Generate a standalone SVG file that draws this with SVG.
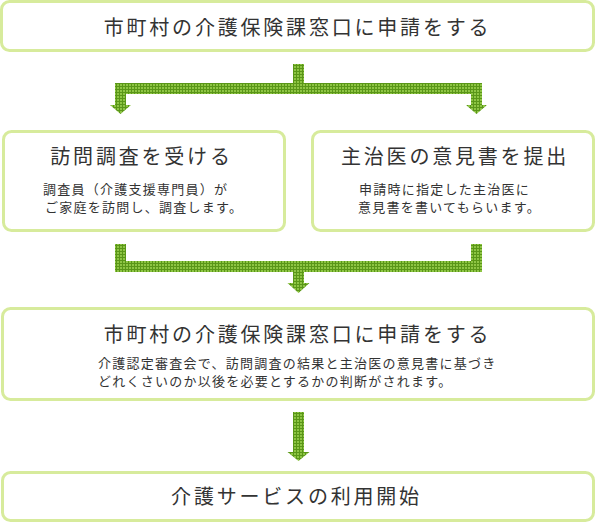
<svg xmlns="http://www.w3.org/2000/svg" width="597" height="523" viewBox="0 0 597 523">
<defs>
<pattern id="grid" patternUnits="userSpaceOnUse" width="3" height="3">
<rect width="3" height="3" fill="#5a9618"/>
<rect x="0" y="0" width="2" height="2" fill="#8ec544"/>
</pattern>
<style>
.box{fill:#ffffff;stroke:#d7eb9c;stroke-width:3}
.t{font-family:"Noto Sans CJK JP","Noto Sans",sans-serif;fill:#333333}
.title{font-size:20px;letter-spacing:2.8px;text-anchor:middle}
.sub{font-size:13px;letter-spacing:1.25px}
.arrow{fill:url(#grid)}
</style>
</defs>
<rect width="597" height="523" fill="#ffffff"/>
<g id="connectors">
<path class="arrow" d="M293,64 H304 V83 H482 V105 H487 L476.5,114 L466,105 H471 V94 H126 V105 H131 L120.5,114 L110,105 H115 V83 H293 Z"/>
<path class="arrow" d="M115,244 H126 V261 H471 V244 H482 V272 H304 V283 H309.5 L298.5,293 L287.5,283 H293 V272 H115 Z"/>
<path class="arrow" d="M293,412 H304 V452 H309.5 L298.5,461 L287.5,452 H293 Z"/>
</g>
<g id="node-apply1">
<rect class="box" x="1.5" y="1.5" width="592" height="49" rx="8"/>
<text class="t title" x="297.5" y="35">市町村の介護保険課窓口に申請をする</text>
</g>
<g id="node-visit">
<rect class="box" x="3.5" y="131.5" width="281" height="99" rx="8"/>
<text class="t title" x="141.5" y="164">訪問調査を受ける</text>
<text class="t sub" x="43" y="194">調査員（介護支援専門員）が</text>
<text class="t sub" x="45" y="212">ご家庭を訪問し、調査します。</text>
</g>
<g id="node-doctor">
<rect class="box" x="312.5" y="131.5" width="281" height="99" rx="8"/>
<text class="t title" x="455" y="164">主治医の意見書を提出</text>
<text class="t sub" x="359" y="194">申請時に指定した主治医に</text>
<text class="t sub" x="358" y="212">意見書を書いてもらいます。</text>
</g>
<g id="node-apply2">
<rect class="box" x="2.5" y="308.5" width="591" height="91" rx="8"/>
<text class="t title" x="297.5" y="342">市町村の介護保険課窓口に申請をする</text>
<text class="t sub" x="98" y="368">介護認定審査会で、訪問調査の結果と主治医の意見書に基づき</text>
<text class="t sub" x="98" y="386">どれくさいのか以後を必要とするかの判断がされます。</text>
</g>
<g id="node-start">
<rect class="box" x="2.5" y="472.5" width="591" height="48" rx="8"/>
<text class="t title" x="296.5" y="504">介護サービスの利用開始</text>
</g>
</svg>
